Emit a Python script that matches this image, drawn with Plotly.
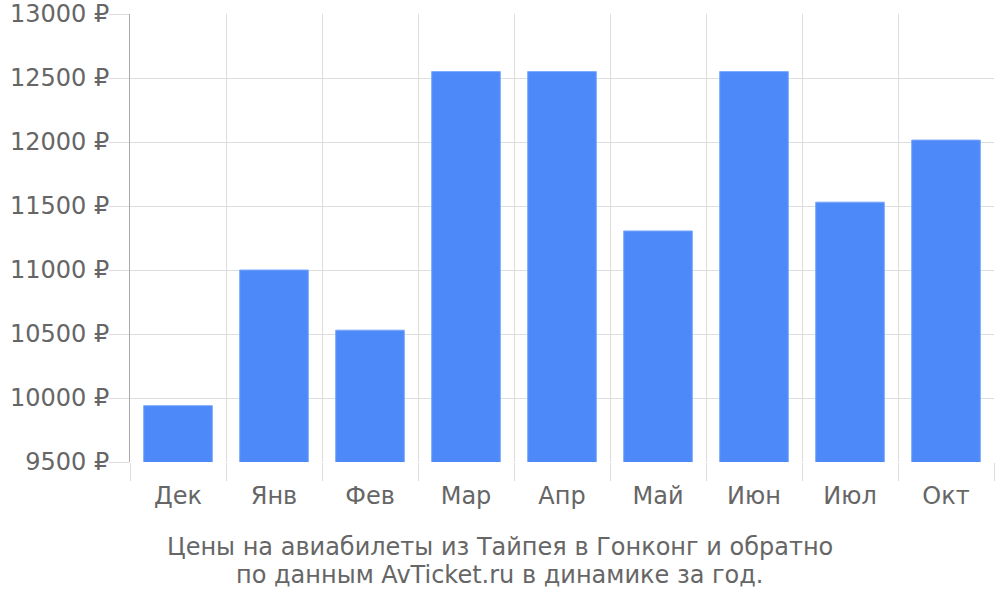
import plotly.graph_objects as go

# Months and ticket prices (RUB)
months = ["Дек", "Янв", "Фев", "Мар", "Апр", "Май", "Июн", "Июл", "Окт"]
prices = [9940, 11000, 10530, 12550, 12550, 11305, 12550, 11530, 12015]

title_lines = [
    "Цены на авиабилеты из Тайпея в Гонконг и обратно",
    "по данным AvTicket.ru в динамике за год.",
]

grid_color = "#dddddd"
text_color = "#666666"

fig = go.Figure(go.Bar(
    x=months,
    y=prices,
    marker=dict(color="#4d89f9", line=dict(color="#7aa8fb", width=1)),
))

fig.update_layout(
    width=1000,
    height=600,
    margin=dict(l=130, r=6, t=14, b=138),
    paper_bgcolor="white",
    plot_bgcolor="white",
    bargap=0.285,
    showlegend=False,
    font=dict(family="DejaVu Sans", size=24, color=text_color),
)

fig.update_xaxes(
    type="category",
    tickson="boundaries",
    ticks="outside",
    ticklen=18,
    tickcolor=grid_color,
    showgrid=True,
    gridcolor=grid_color,
    gridwidth=1,
    showline=False,
    automargin=False,
    ticklabelstandoff=17,
    tickfont=dict(size=24, color=text_color),
)

fig.update_yaxes(
    range=[9500, 13000],
    dtick=500,
    tick0=9500,
    tickformat="d",
    ticksuffix=" ₽",
    ticks="outside",
    ticklen=20,
    tickcolor=grid_color,
    showgrid=True,
    gridcolor=grid_color,
    zeroline=False,
    showline=True,
    linecolor="#aaaaaa",
    automargin=False,
    ticklabelstandoff=-5,
    tickfont=dict(size=24, color=text_color),
)

# two-line caption under the chart, centred on the page
for i, line in enumerate(title_lines):
    fig.add_annotation(
        text=line,
        xref="paper",
        yref="paper",
        x=(500 - 130) / 864,
        y=(462 - (547 + 28 * i)) / 448,
        xanchor="center",
        yanchor="middle",
        showarrow=False,
        font=dict(size=24, color=text_color),
    )

# drop the default body margin so the figure sits at the page corner
fig.write_html(
    "out.html",
    config={"displayModeBar": False},
    post_script="document.body.style.margin = '0';",
)
